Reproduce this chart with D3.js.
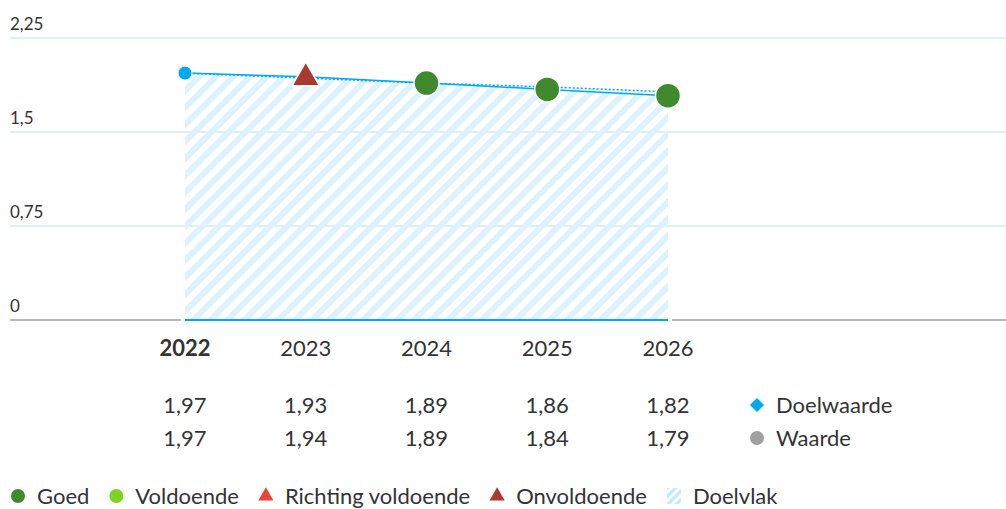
<!DOCTYPE html>
<html>
<head>
<meta charset="utf-8">
<script src="https://cdn.jsdelivr.net/npm/d3@7"></script>
<style>
body { margin: 0; background: #fff; font-family: Lato, "Open Sans", sans-serif; }
svg text { fill: #333; }
</style>
</head>
<body>
<div id="chart"></div>
<script>
var years = [2022, 2023, 2024, 2025, 2026];
var doelwaarde = [1.97, 1.93, 1.89, 1.86, 1.82];
var waarde = [1.97, 1.94, 1.89, 1.84, 1.79];
var oordeel = ["start", "onvoldoende", "goed", "goed", "goed"];
var yTicks = [0, 0.75, 1.5, 2.25];
var legendItems = [
	{ label: "Goed", shape: "circle", color: "#3e8a2c" },
	{ label: "Voldoende", shape: "circle", color: "#7ed321" },
	{ label: "Richting voldoende", shape: "triangle", color: "#e8453c" },
	{ label: "Onvoldoende", shape: "triangle", color: "#a83a30" },
	{ label: "Doelvlak", shape: "hatch", color: "#bfe8fb" }
];

var w = 1006,
	h = 509,
	svg = d3
		.select("#chart")
		.append("svg")
		.attr("width", w)
		.attr("height", h);

var blue = "#00a9f4";
var fs = "22px";
var fmt = function(v) { return String(v).replace(".", ","); };

var x = d3.scaleLinear()
	.domain([2022, 2026])
	.range([185, 668]);

var y = d3.scaleLinear()
	.domain([0, 2.25])
	.range([320, 38]);

// hatch pattern
var defs = svg.append("defs");
defs.append("pattern")
	.attr("id", "hatch")
	.attr("patternUnits", "userSpaceOnUse")
	.attr("width", 12)
	.attr("height", 12)
	.attr("patternTransform", "rotate(45)")
	.append("rect")
	.attr("width", 6)
	.attr("height", 12)
	.attr("fill", "#dcf2fc");
defs.append("pattern")
	.attr("id", "hatch2")
	.attr("patternUnits", "userSpaceOnUse")
	.attr("width", 6)
	.attr("height", 6)
	.attr("patternTransform", "rotate(45)")
	.append("rect")
	.attr("width", 3)
	.attr("height", 6)
	.attr("fill", "#bfe8fb");

// gridlines + y labels
yTicks.forEach(function(t) {
	if (t > 0) {
		svg.append("line")
			.attr("x1", 10).attr("x2", w)
			.attr("y1", y(t)).attr("y2", y(t))
			.attr("stroke", "#d3e8f0")
			.attr("stroke-width", 1.5);
	}
	svg.append("text")
		.attr("x", 10)
		.attr("y", y(t) - 8)
		.style("font-size", "17px")
		.text(fmt(t));
});

// target area
var area = d3.area()
	.x(function(d, i) { return x(years[i]); })
	.y0(y(0))
	.y1(function(d) { return y(d); });

svg.append("path")
	.datum(doelwaarde)
	.attr("d", area)
	.attr("fill", "url(#hatch)");

// base axis
svg.append("line")
	.attr("x1", 10).attr("x2", x(2022) - 4)
	.attr("y1", y(0)).attr("y2", y(0))
	.attr("stroke", "#95a5a6").attr("stroke-width", 1.5);
svg.append("line")
	.attr("x1", x(2026) + 4).attr("x2", w)
	.attr("y1", y(0)).attr("y2", y(0))
	.attr("stroke", "#95a5a6").attr("stroke-width", 1.5);
svg.append("line")
	.attr("x1", x(2022)).attr("x2", x(2026))
	.attr("y1", y(0)).attr("y2", y(0))
	.attr("stroke", blue).attr("stroke-width", 2);

// lines
var line = d3.line()
	.x(function(d, i) { return x(years[i]); })
	.y(function(d) { return y(d); });

svg.append("path")
	.datum(doelwaarde)
	.attr("d", line)
	.attr("fill", "none")
	.attr("stroke", blue)
	.attr("stroke-width", 1.5)
	.attr("stroke-dasharray", "2,2");

svg.append("path")
	.datum(waarde)
	.attr("d", line)
	.attr("fill", "none")
	.attr("stroke", blue)
	.attr("stroke-width", 1.5);

// markers
var colors = { goed: "#3e8a2c", voldoende: "#7ed321", onvoldoende: "#a83a30", richting: "#e8453c" };
waarde.forEach(function(v, i) {
	var cx = x(years[i]), cy = y(v);
	var s = oordeel[i];
	if (s == "start") {
		svg.append("circle")
			.attr("cx", cx).attr("cy", cy).attr("r", 7)
			.attr("fill", blue)
			.attr("stroke", "#fff").attr("stroke-width", 1);
	} else if (s == "goed" || s == "voldoende") {
		svg.append("circle")
			.attr("cx", cx).attr("cy", cy).attr("r", 12.5)
			.attr("fill", colors[s])
			.attr("stroke", "#fff").attr("stroke-width", 1.5);
	} else {
		svg.append("path")
			.attr("d", d3.symbol().type(d3.symbolTriangle).size(330)())
			.attr("transform", `translate(${cx},${cy + 1})`)
			.attr("fill", colors[s])
			.attr("stroke", "#fff").attr("stroke-width", 1.5)
			.attr("stroke-linejoin", "round");
	}
});

// year labels + value table
years.forEach(function(yr, i) {
	svg.append("text")
		.attr("x", x(yr))
		.attr("y", 356)
		.attr("text-anchor", "middle")
		.style("font-size", fs)
		.style("font-weight", i == 0 ? "bold" : "normal")
		.text(yr);
	svg.append("text")
		.attr("x", x(yr))
		.attr("y", 413)
		.attr("text-anchor", "middle")
		.style("font-size", fs)
		.text(fmt(doelwaarde[i].toFixed(2)));
	svg.append("text")
		.attr("x", x(yr))
		.attr("y", 446)
		.attr("text-anchor", "middle")
		.style("font-size", fs)
		.text(fmt(waarde[i].toFixed(2)));
});

// right legend
svg.append("rect")
	.attr("x", -5).attr("y", -5).attr("width", 10).attr("height", 10)
	.attr("transform", "translate(757,405) rotate(45)")
	.attr("fill", blue);
svg.append("text").attr("x", 776).attr("y", 413).style("font-size", fs).text("Doelwaarde");
svg.append("circle").attr("cx", 757).attr("cy", 438).attr("r", 7).attr("fill", "#a0a0a0");
svg.append("text").attr("x", 776).attr("y", 446).style("font-size", fs).text("Waarde");

// bottom legend
var lx = 18;
legendItems.forEach(function(d) {
	var g = svg.append("g").attr("transform", `translate(${lx},496)`);
	if (d.shape == "circle") {
		g.append("circle").attr("cx", 0).attr("cy", 0).attr("r", 7).attr("fill", d.color);
	} else if (d.shape == "triangle") {
		g.append("path")
			.attr("d", d3.symbol().type(d3.symbolTriangle).size(100)())
			.attr("fill", d.color);
	} else {
		g.append("rect").attr("x", -7).attr("y", -8).attr("width", 14).attr("height", 16)
			.attr("fill", "url(#hatch2)");
	}
	var t = g.append("text").attr("x", 19).attr("y", 8).style("font-size", fs).text(d.label);
	lx += 19 + t.node().getComputedTextLength() + 27;
});
</script>
</body>
</html>
